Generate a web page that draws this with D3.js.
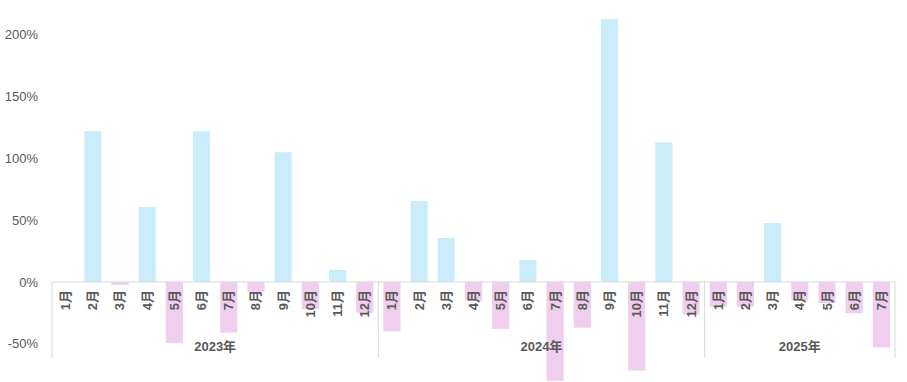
<!DOCTYPE html>
<html>
<head>
<meta charset="utf-8">
<script src="https://cdn.jsdelivr.net/npm/d3@7"></script>
<style>
  body { margin: 0; background: #fff; }
  text { font-family: "Liberation Sans", "Noto Sans CJK JP", sans-serif; }
</style>
</head>
<body>
<script>
// chart size and margins
const width = 907;
const height = 382;
const margin = {top: 4, right: 12, bottom: 0, left: 52};

// data
const years = ['2023年', '2024年', '2025年'];
const months2023 = ['1月','2月','3月','4月','5月','6月','7月','8月','9月','10月','11月','12月'];
const months2024 = ['1月','2月','3月','4月','5月','6月','7月','8月','9月','10月','11月','12月'];
const months2025 = ['1月','2月','3月','4月','5月','6月','7月'];
const values2023 = [0, 122, -2.5, 60.7, -49.4, 122, -41, -8, 105, -22, 9.7, -25];
const values2024 = [-40, 65.5, 35.6, -15, -38, 17.8, -80, -37, 212.8, -71.7, 113, -26.5];
const values2025 = [-20, -20, 47.7, -15, -17, -25.3, -53];
const yTicks = [-50, 0, 50, 100, 150, 200];

// flatten into one list of categories
const groups = [
  {year: years[0], months: months2023, values: values2023},
  {year: years[1], months: months2024, values: values2024},
  {year: years[2], months: months2025, values: values2025}
];
const data = [];
groups.forEach(g => g.months.forEach((m, i) => data.push({key: g.year + m, year: g.year, month: m, value: g.values[i]})));

const x = d3.scaleBand()
  .domain(data.map(d => d.key))
  .range([margin.left, width - margin.right])
  .paddingInner(0.37)
  .paddingOuter(0.185);

// 0% -> 282, 200% -> 35
const y = d3.scaleLinear()
  .domain([-80, 225])
  .range([380.8, 4]);

const svg = d3.select('body').append('svg')
  .attr('width', width)
  .attr('height', height);

// bars
svg.append('g')
  .selectAll('rect')
  .data(data)
  .join('rect')
  .attr('x', d => x(d.key))
  .attr('width', x.bandwidth())
  .attr('y', d => y(Math.max(0, d.value)))
  .attr('height', d => Math.abs(y(d.value) - y(0)))
  .attr('fill', d => d.value >= 0 ? '#cbecfb' : '#f0ceee');

// y axis labels
svg.append('g')
  .selectAll('text')
  .data(yTicks)
  .join('text')
  .attr('x', 38)
  .attr('y', d => y(d))
  .attr('dy', '0.35em')
  .attr('text-anchor', 'end')
  .attr('font-size', 13)
  .attr('fill', '#595959')
  .text(d => d + '%');

// zero line
svg.append('line')
  .attr('x1', margin.left).attr('x2', width - margin.right)
  .attr('y1', y(0)).attr('y2', y(0))
  .attr('stroke', '#d9d9d9').attr('stroke-width', 1);

// year separators
const step = x.step();
const x0 = margin.left;
let bounds = [x0];
let idx = 0;
groups.forEach(g => { idx += g.months.length; bounds.push(x0 + idx * step); });
svg.append('g')
  .selectAll('line')
  .data(bounds)
  .join('line')
  .attr('x1', d => d).attr('x2', d => d)
  .attr('y1', y(0)).attr('y2', 358)
  .attr('stroke', '#d9d9d9').attr('stroke-width', 1);

// month labels
svg.append('g')
  .selectAll('text')
  .data(data)
  .join('text')
  .attr('transform', d => `translate(${x(d.key) + x.bandwidth() / 2 + 4.5},290) rotate(-90)`)
  .attr('text-anchor', 'end')
  .attr('font-size', 13)
  .attr('font-weight', 'bold')
  .attr('fill', '#595959')
  .text(d => d.month);

// year labels
svg.append('g')
  .selectAll('text')
  .data(groups)
  .join('text')
  .attr('x', (d, i) => (bounds[i] + bounds[i + 1]) / 2)
  .attr('y', 351)
  .attr('text-anchor', 'middle')
  .attr('font-size', 13)
  .attr('font-weight', 'bold')
  .attr('fill', '#595959')
  .text(d => d.year);
</script>
</body>
</html>
